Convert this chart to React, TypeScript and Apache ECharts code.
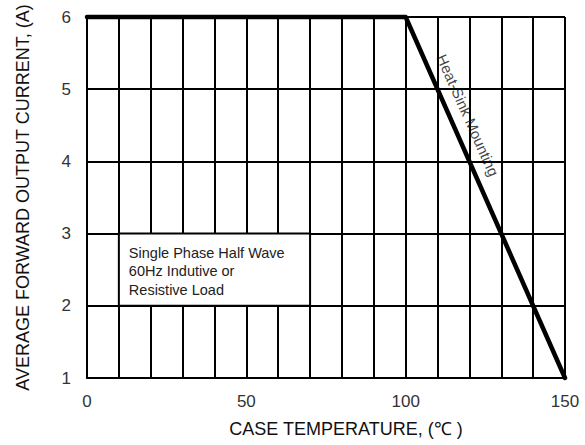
import React, { useEffect, useRef } from "react";
import * as echarts from "echarts";

const curveX = [0, 100, 150];
const curveY = [6, 6, 1];
const xTickLabels = [0, 50, 100, 150];
const yTicks = [1, 2, 3, 4, 5, 6];
const noteLines = ["Single Phase Half Wave", "60Hz Indutive or", "Resistive Load"];
const noteBox = { x1: 10, y1: 3, x2: 70, y2: 2 };
const curveLabel = "Heat-Sink Mounting";
const curveLabelAt = [119.5, 4.64];

const FONT = "'Liberation Sans', Arial, Helvetica, sans-serif";

export default function App() {
  const ref = useRef<HTMLDivElement>(null);
  useEffect(() => {
    if (!ref.current) return;
    document.body.style.margin = "0";
    const chart = echarts.init(ref.current, null, { renderer: "svg" });
    chart.setOption({
      animation: false,
      backgroundColor: "#ffffff",
      textStyle: { fontFamily: FONT },
      grid: { left: 87, right: 20, top: 17, bottom: 67, containLabel: false },
      xAxis: {
        type: "value",
        min: 0,
        max: 150,
        interval: 10,
        name: "CASE TEMPERATURE, (℃ )",
        nameLocation: "middle",
        nameGap: 42,
        nameTextStyle: { fontSize: 18, color: "#111", fontFamily: FONT, padding: [0, 0, 0, 40] },
        axisLine: { show: true, lineStyle: { color: "#000", width: 2 } },
        axisTick: { show: false },
        axisLabel: {
          fontSize: 17,
          color: "#333",
          margin: 15,
          fontFamily: FONT,
          formatter: (v: number) => (xTickLabels.includes(v) ? String(v) : ""),
        },
        splitLine: { show: true, lineStyle: { color: "#000", width: 2 } },
      },
      yAxis: {
        type: "value",
        min: yTicks[0],
        max: yTicks[yTicks.length - 1],
        interval: 1,
        name: "AVERAGE FORWARD OUTPUT CURRENT, (A)",
        nameLocation: "middle",
        nameGap: 55,
        nameTextStyle: { fontSize: 18, color: "#111", fontFamily: FONT },
        axisLine: { show: true, lineStyle: { color: "#000", width: 2 } },
        axisTick: { show: false },
        axisLabel: { fontSize: 17, color: "#333", margin: 16, fontFamily: FONT },
        splitLine: { show: true, lineStyle: { color: "#000", width: 2 } },
      },
      series: [
        {
          type: "line",
          data: curveX.map((x, i) => [x, curveY[i]]),
          symbol: "none",
          clip: false,
          lineStyle: { color: "#000", width: 4.5, cap: "round", join: "round" },
          z: 5,
          markArea: {
            silent: true,
            itemStyle: { color: "#ffffff", borderColor: "#000", borderWidth: 2 },
            label: {
              show: true,
              position: "insideTopLeft",
              distance: 11,
              fontSize: 14.5,
              lineHeight: 18.5,
              color: "#222",
              fontFamily: FONT,
              formatter: noteLines.join("\n"),
            },
            data: [[{ coord: [noteBox.x1, noteBox.y1] }, { coord: [noteBox.x2, noteBox.y2] }]],
          },
        },
        {
          type: "scatter",
          data: [curveLabelAt],
          symbolSize: 0,
          silent: true,
          z: 6,
          label: {
            show: true,
            position: "inside",
            rotate: -66,
            fontSize: 15,
            color: "#111",
            fontFamily: FONT,
            formatter: curveLabel,
          },
        },
      ],
    });
    return () => chart.dispose();
  }, []);
  return <div ref={ref} style={{ position: "fixed", left: 0, top: 0, width: 585, height: 445 }} />;
}
